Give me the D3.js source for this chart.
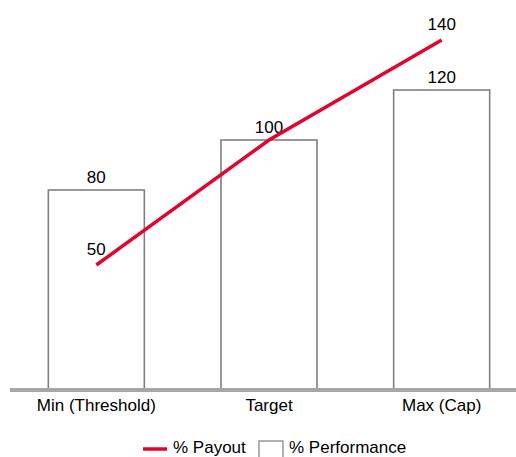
<!DOCTYPE html>
<html>
<head>
<meta charset="utf-8">
<script src="https://cdn.jsdelivr.net/npm/d3@7"></script>
<style>
  html, body { margin: 0; padding: 0; background: #fff; }
  svg { display: block; font-family: Arial, "Liberation Sans", sans-serif; }
</style>
</head>
<body>
<svg id="chart" width="516" height="457"></svg>
<script>
// Chart data
const categories = ["Min (Threshold)", "Target", "Max (Cap)"];
const performance = [80, 100, 120];   // bars
const payout = [50, 100, 140];        // line
const legendLabels = ["% Payout", "% Performance"];

const svg = d3.select("#chart");
const W = 516, H = 457;
const baseY = 390;
const fs = 17;

const x = d3.scaleBand()
  .domain(categories)
  .range([10, 528])
  .paddingInner(0.444)
  .paddingOuter(0.222);

const y = d3.scaleLinear().domain([0, 140]).range([baseY, 40]);

const lineColor = "#e4032e";
const barStroke = "#7f7f7f";

// Bars
svg.append("g").selectAll("rect")
  .data(categories)
  .join("rect")
  .attr("x", d => x(d))
  .attr("y", (d, i) => y(performance[i]))
  .attr("width", x.bandwidth())
  .attr("height", (d, i) => baseY - y(performance[i]))
  .attr("fill", "#fff")
  .attr("stroke", barStroke)
  .attr("stroke-width", 1.6);

// Bar value labels
svg.append("g").selectAll("text")
  .data(categories)
  .join("text")
  .attr("x", d => x(d) + x.bandwidth() / 2)
  .attr("y", (d, i) => y(performance[i]) - 7)
  .attr("text-anchor", "middle")
  .attr("font-size", fs)
  .attr("fill", "#000")
  .text((d, i) => performance[i]);

// Payout line
const line = d3.line()
  .x((d, i) => x(categories[i]) + x.bandwidth() / 2)
  .y(d => y(d));

svg.append("path")
  .datum(payout)
  .attr("d", line)
  .attr("fill", "none")
  .attr("stroke", lineColor)
  .attr("stroke-width", 3.5);

// Payout labels (the middle one coincides with the bar label)
svg.append("g").selectAll("text")
  .data(payout.map((v, i) => ({ v, i })).filter(d => d.v !== performance[d.i]))
  .join("text")
  .attr("x", d => x(categories[d.i]) + x.bandwidth() / 2)
  .attr("y", d => y(d.v) - 10)
  .attr("text-anchor", "middle")
  .attr("font-size", fs)
  .attr("fill", "#000")
  .text(d => d.v);

// Category axis baseline
svg.append("line")
  .attr("x1", 10).attr("x2", W)
  .attr("y1", baseY).attr("y2", baseY)
  .attr("stroke", "#a6a6a6")
  .attr("stroke-width", 4);

// Category labels
svg.append("g").selectAll("text")
  .data(categories)
  .join("text")
  .attr("x", d => x(d) + x.bandwidth() / 2)
  .attr("y", 411)
  .attr("text-anchor", "middle")
  .attr("font-size", fs)
  .attr("fill", "#000")
  .text(d => d);

// Legend
const leg = svg.append("g");
leg.append("line")
  .attr("x1", 143).attr("x2", 167)
  .attr("y1", 449).attr("y2", 449)
  .attr("stroke", lineColor)
  .attr("stroke-width", 3.5);
leg.append("text")
  .attr("x", 173).attr("y", 453)
  .attr("font-size", fs)
  .text(legendLabels[0]);
leg.append("rect")
  .attr("x", 259).attr("y", 441)
  .attr("width", 24).attr("height", 24)
  .attr("fill", "#fff")
  .attr("stroke", barStroke)
  .attr("stroke-width", 1.2);
leg.append("text")
  .attr("x", 289).attr("y", 453)
  .attr("font-size", fs)
  .text(legendLabels[1]);
</script>
</body>
</html>
